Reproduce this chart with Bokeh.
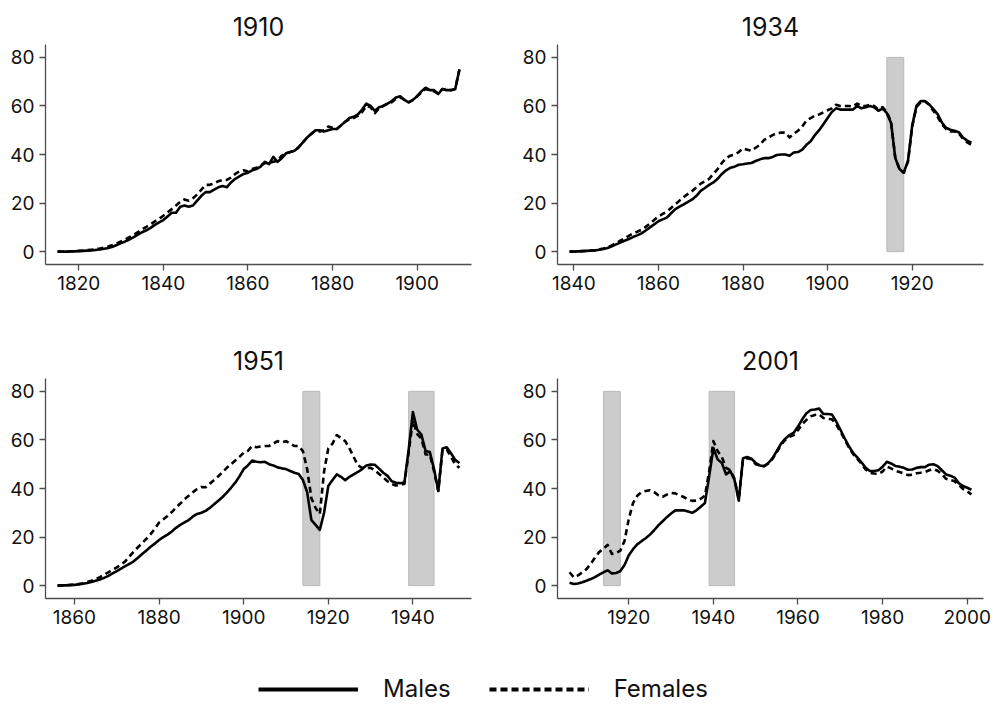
from bokeh.plotting import figure
from bokeh.models import Range1d, FixedTicker, Legend, LegendItem, Title
from bokeh.layouts import column, row
from bokeh.embed import file_html
from bokeh.resources import INLINE

FONT = "Inter"

# ---------------- data ----------------
years_1910 = list(range(1815, 1911))
males_1910 = [0.0, 0.0, 0.0, 0.1, 0.1, 0.2, 0.3, 0.4, 0.5, 0.7,
              0.9, 1.2, 1.5, 2.0, 2.7, 3.5, 4.2, 5.0, 6.0, 7.0,
              8.0, 8.8, 9.8, 11.0, 12.0, 13.0, 14.5, 16.0, 16.0, 18.5,
              19.0, 18.5, 19.0, 21.0, 23.0, 24.5, 24.5, 25.5, 26.5, 27.0,
              26.5, 28.5, 30.0, 31.0, 32.0, 32.5, 33.5, 34.0, 35.0, 37.0,
              36.0, 39.0, 37.0, 38.5, 40.5, 41.0, 41.5, 43.0, 45.0, 47.0,
              48.5, 50.0, 50.0, 49.5, 50.0, 50.5, 50.5, 52.0, 53.5, 55.0,
              55.5, 56.5, 58.5, 61.0, 60.0, 58.0, 59.5, 60.0, 61.0, 62.0,
              63.5, 64.0, 62.5, 61.5, 62.5, 64.0, 66.0, 67.5, 66.5, 66.5,
              65.0, 67.0, 66.5, 66.5, 67.0, 75.0]
females_1910 = [0.0, 0.0, 0.1, 0.1, 0.2, 0.3, 0.4, 0.6, 0.8, 1.0,
                1.3, 1.7, 2.1, 2.7, 3.4, 4.2, 5.0, 6.0, 7.0, 8.0,
                9.2, 10.2, 11.2, 12.5, 13.5, 14.8, 16.2, 17.5, 19.0, 20.5,
                21.5, 21.0, 22.0, 23.5, 25.5, 27.5, 27.5, 28.0, 29.0, 29.5,
                29.5, 30.5, 32.0, 33.0, 33.5, 33.0, 34.0, 34.5, 35.5, 36.5,
                36.5, 37.0, 37.5, 39.5, 40.5, 41.0, 41.5, 43.0, 45.0, 47.0,
                48.5, 50.0, 49.5, 50.0, 51.5, 51.0, 50.5, 52.0, 53.5, 54.5,
                55.0, 56.0, 57.5, 60.0, 59.5, 57.0, 59.0, 60.0, 61.0, 61.5,
                63.0, 63.5, 62.5, 61.5, 62.5, 64.0, 65.5, 67.0, 66.5, 66.0,
                65.0, 67.0, 66.5, 66.5, 67.0, 75.0]

years_1934 = list(range(1839, 1935))
males_1934 = [0.0, 0.0, 0.1, 0.2, 0.3, 0.4, 0.5, 0.8, 1.1, 1.5,
              2.2, 3.0, 3.7, 4.5, 5.2, 6.0, 6.7, 7.5, 8.7, 10.0,
              11.2, 12.5, 13.3, 14.0, 15.8, 17.5, 18.5, 19.5, 20.5, 21.5,
              23.0, 25.0, 26.2, 27.5, 28.5, 30.0, 32.0, 33.5, 34.5, 35.0,
              35.8, 36.0, 36.3, 36.5, 37.3, 38.0, 38.5, 38.5, 39.0, 39.8,
              40.0, 40.0, 39.5, 40.8, 41.0, 42.0, 44.0, 45.5, 48.0, 50.0,
              52.5, 55.0, 57.5, 59.0, 58.5, 58.5, 58.5, 58.5, 60.0, 59.0,
              59.5, 60.0, 59.5, 58.0, 59.0, 57.0, 53.0, 38.5, 34.0, 32.5,
              37.5, 52.0, 60.0, 62.0, 62.0, 60.7, 58.7, 56.6, 53.2, 51.0,
              50.2, 49.8, 49.2, 47.0, 45.7, 44.9]
females_1934 = [0.0, 0.0, 0.1, 0.2, 0.3, 0.4, 0.6, 0.9, 1.3, 1.8,
                2.6, 3.5, 4.5, 5.5, 6.5, 7.5, 8.2, 9.0, 10.2, 11.5,
                13.0, 14.5, 15.5, 16.5, 18.0, 19.5, 21.0, 22.5, 23.8, 25.0,
                26.5, 28.0, 29.0, 30.0, 32.0, 34.0, 36.5, 38.5, 39.5, 40.0,
                41.0, 42.5, 42.0, 41.5, 42.8, 44.0, 46.0, 47.0, 48.0, 48.8,
                49.0, 49.0, 47.0, 48.5, 49.8, 51.5, 54.0, 55.0, 56.0, 56.5,
                57.3, 58.2, 59.0, 60.5, 60.0, 60.0, 60.0, 59.8, 61.0, 60.0,
                60.0, 60.5, 60.0, 58.5, 59.5, 57.5, 53.5, 38.5, 34.0, 32.5,
                37.0, 51.5, 59.5, 61.5, 61.8, 60.5, 58.0, 55.5, 52.5, 50.5,
                49.5, 49.5, 48.8, 46.5, 45.0, 44.0]

years_1951 = list(range(1856, 1952))
males_1951 = [0.0, 0.1, 0.1, 0.2, 0.3, 0.5, 0.8, 1.1, 1.5, 2.0,
              2.5, 3.2, 4.0, 5.0, 6.0, 7.0, 8.0, 9.0, 10.0, 11.5,
              13.0, 14.5, 16.0, 17.3, 18.8, 20.0, 21.0, 22.3, 23.8, 25.0,
              26.0, 27.0, 28.5, 29.5, 30.0, 30.8, 32.0, 33.5, 35.0, 36.5,
              38.3, 40.3, 42.4, 45.0, 48.0, 49.5, 51.5, 51.0, 50.8, 51.0,
              50.0, 49.5, 48.7, 48.3, 48.0, 47.2, 46.5, 46.0, 43.5, 38.5,
              27.0, 25.0, 23.0, 30.0, 41.0, 43.5, 45.8, 44.8, 43.4, 44.8,
              45.8, 46.8, 48.0, 49.5, 49.9, 49.8, 48.2, 46.5, 45.2, 43.0,
              42.4, 42.2, 42.5, 56.0, 71.5, 64.3, 62.2, 55.4, 55.0, 48.0,
              39.0, 56.5, 57.0, 54.5, 51.8, 50.5]
females_1951 = [0.0, 0.1, 0.2, 0.3, 0.5, 0.7, 1.0, 1.5, 2.0, 2.7,
                3.5, 4.5, 5.5, 6.5, 7.5, 8.7, 10.0, 12.0, 14.0, 15.8,
                17.5, 19.3, 21.2, 23.5, 26.0, 27.3, 28.7, 30.3, 32.1, 33.8,
                35.6, 37.0, 38.5, 39.8, 40.6, 40.5, 42.0, 43.5, 45.0, 46.8,
                48.5, 50.0, 51.5, 53.0, 54.7, 55.5, 57.5, 57.0, 57.3, 57.5,
                57.5, 58.5, 59.5, 59.0, 59.5, 58.5, 57.5, 57.5, 55.4, 48.0,
                36.0, 32.0, 29.5, 47.0, 56.5, 58.5, 62.0, 60.8, 59.5, 56.5,
                53.0, 49.5, 48.5, 48.5, 48.5, 47.5, 46.0, 44.5, 43.0, 41.8,
                41.2, 41.5, 42.0, 55.0, 68.0, 62.5, 60.5, 54.0, 54.0, 47.0,
                39.0, 56.0, 56.0, 53.0, 50.0, 48.5]

years_2001 = list(range(1906, 2002))
males_2001 = [1.2, 0.7, 0.9, 1.4, 2.0, 2.7, 3.5, 4.5, 5.5, 6.3,
              5.0, 5.2, 6.0, 8.5, 12.5, 15.0, 17.0, 18.3, 19.5, 21.0,
              22.8, 24.8, 26.5, 28.2, 29.7, 31.0, 31.0, 31.0, 30.5, 30.0,
              31.0, 32.5, 34.0, 45.0, 56.7, 52.0, 50.5, 45.8, 47.2, 43.5,
              35.0, 52.5, 53.0, 52.3, 50.5, 49.5, 49.2, 50.5, 52.5, 55.5,
              58.5, 60.5, 62.0, 63.0, 65.5, 68.5, 71.0, 72.3, 72.5, 72.9,
              70.7, 70.7, 70.5, 67.7, 64.3, 60.8, 57.5, 54.7, 52.8, 50.8,
              48.5, 47.2, 47.2, 47.5, 49.0, 51.0, 50.3, 49.3, 49.0, 48.5,
              47.7, 47.8, 48.5, 48.8, 48.8, 49.8, 50.0, 49.2, 47.5, 45.8,
              45.3, 44.5, 42.2, 41.0, 40.3, 39.5]
females_2001 = [5.5, 3.4, 4.2, 5.5, 6.8, 9.0, 11.5, 13.8, 15.2, 16.8,
                13.0, 13.5, 14.4, 18.5, 27.5, 34.0, 37.0, 38.5, 39.0, 39.3,
                38.5, 37.2, 36.6, 37.5, 38.2, 38.0, 37.2, 36.5, 35.5, 34.9,
                35.0, 35.8, 37.0, 47.0, 59.5, 55.4, 53.0, 48.5, 47.5, 44.0,
                35.5, 52.0, 52.5, 52.0, 50.0, 49.5, 49.2, 50.3, 52.3, 55.0,
                58.0, 60.0, 61.3, 62.0, 64.0, 66.5, 68.3, 69.7, 70.3, 70.5,
                69.0, 68.7, 68.5, 66.5, 63.5, 60.3, 57.0, 54.3, 52.3, 50.2,
                47.8, 46.5, 46.2, 46.0, 47.0, 49.0, 48.3, 47.3, 46.8, 46.2,
                45.5, 45.7, 46.3, 46.5, 46.8, 47.5, 48.0, 47.3, 46.0, 44.0,
                43.5, 43.0, 41.5, 39.8, 38.8, 37.6]

# war periods (start, end) shaded from 0 to 80
wars_1910 = []
wars_1934 = [(1914, 1918)]
wars_1951 = [(1914, 1918), (1939, 1945)]
wars_2001 = [(1914, 1918), (1939, 1945)]
war_bottom = 0
war_top = 80

xticks_1910 = [1820, 1840, 1860, 1880, 1900]
xticks_1934 = [1840, 1860, 1880, 1900, 1920]
xticks_1951 = [1860, 1880, 1900, 1920, 1940]
xticks_2001 = [1920, 1940, 1960, 1980, 2000]
yticks = [0, 20, 40, 60, 80]

series_labels = ["Males", "Females"]

AXIS_COLOR = "#4d4d4d"
PAD = 2.85


def panel(title, years, males, females, wars, xticks, width, height,
          left, right, top, bottom):
    p = figure(width=width, height=height, output_backend="svg",
               toolbar_location=None,
               x_range=Range1d(years[0] - PAD, years[-1] + PAD),
               y_range=Range1d(-5.3, 85.3),
               min_border_left=left, min_border_right=right,
               min_border_top=top, min_border_bottom=bottom)
    # small empty spacer between frame and the title lifts the title up
    p.add_layout(Title(text=" ", text_font_size="4px", standoff=0), "above")
    p.add_layout(Title(text=title, align="center", text_font=FONT,
                       text_font_size="25px", text_font_style="normal",
                       text_color="#111111", standoff=4), "above")
    p.outline_line_color = None
    p.grid.visible = False
    p.background_fill_color = "white"

    if wars:
        p.quad(left=[w[0] for w in wars], right=[w[1] for w in wars],
               bottom=[war_bottom] * len(wars), top=[war_top] * len(wars),
               fill_color="#cccccc", line_color="#bababa", line_width=1)

    p.line(years, males, line_width=2.6, color="black", line_join="round")
    p.line(years, females, line_width=2.6, color="black",
           line_dash="6 4", line_join="round")

    for ax in (p.xaxis, p.yaxis):
        ax.axis_line_color = AXIS_COLOR
        ax.axis_line_width = 1.3
        ax.major_tick_line_color = AXIS_COLOR
        ax.major_tick_line_width = 1.3
        ax.major_tick_out = 6
        ax.major_tick_in = 0
        ax.minor_tick_line_color = None
        ax.major_label_text_font = FONT
        ax.major_label_text_font_size = "19px"
        ax.major_label_text_color = "#111111"
        ax.major_label_standoff = 5
    p.xaxis.ticker = FixedTicker(ticks=xticks)
    p.yaxis.ticker = FixedTicker(ticks=yticks)
    return p


# page coordinates: frames at x 45-471 / 557-983, y 44-264 / 378-598
p1 = panel("1910", years_1910, males_1910, females_1910, wars_1910,
           xticks_1910, 498, 334, 45, 27, 44, 70)
p2 = panel("1934", years_1934, males_1934, females_1934, wars_1934,
           xticks_1934, 494, 334, 59, 9, 44, 70)
p3 = panel("1951", years_1951, males_1951, females_1951, wars_1951,
           xticks_1951, 498, 296, 45, 27, 44, 32)
p4 = panel("2001", years_2001, males_2001, females_2001, wars_2001,
           xticks_2001, 494, 296, 59, 9, 44, 32)

leg = figure(width=992, height=74, output_backend="svg",
             toolbar_location=None, min_border=0,
             x_range=Range1d(0, 1), y_range=Range1d(0, 1))
leg.axis.visible = False
leg.grid.visible = False
leg.outline_line_color = None
# dummy renderers (outside the visible range) that only feed the legend
r_m = leg.line([-5, -4], [-5, -4], line_width=4, color="black")
r_f = leg.line([-5, -4], [-5, -4], line_width=4, color="black",
               line_dash="7 4")
legend = Legend(items=[LegendItem(label=series_labels[0], renderers=[r_m]),
                       LegendItem(label=series_labels[1], renderers=[r_f])],
                orientation="horizontal", location=(258, 1),
                glyph_width=100, glyph_height=28, label_height=28,
                label_standoff=25, spacing=38, padding=0, margin=0,
                border_line_color=None, background_fill_alpha=0,
                label_text_font=FONT, label_text_font_size="24px",
                label_text_color="#111111")
leg.add_layout(legend, "center")

layout = column(row(p1, p2), row(p3, p4), leg)

open("out.html", "w").write(file_html(layout, INLINE))
